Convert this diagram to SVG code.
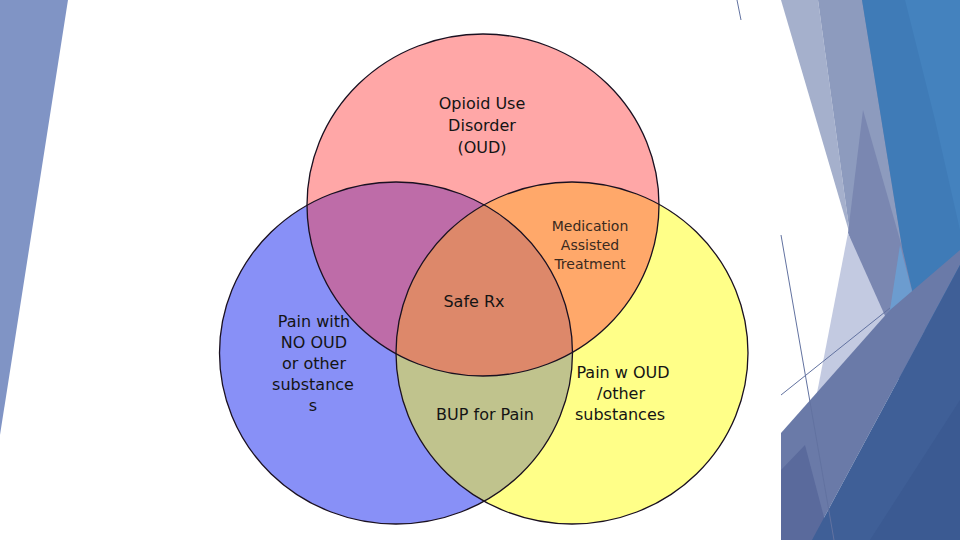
<svg xmlns="http://www.w3.org/2000/svg" width="960" height="540" viewBox="0 0 960 540">
  <style>
    .lbl { font-family: "DejaVu Sans", "Liberation Sans", sans-serif; font-size: 16px; fill: #141414; text-anchor: middle; }
    .lt { font-family: "DejaVu Sans", "Liberation Sans", sans-serif; font-size: 14px; fill: #3a2a20; text-anchor: middle; }
    .edge { fill: none; stroke: #1a1020; stroke-width: 1.3; }
    .deco-line { stroke: #6272a0; stroke-width: 1; fill: none; }
  </style>
  <defs>
    <ellipse id="eRed" cx="483" cy="205" rx="176" ry="171"/>
    <ellipse id="eBlue" cx="396" cy="353" rx="176.5" ry="171"/>
    <ellipse id="eYel" cx="572" cy="353" rx="176" ry="171"/>
    <clipPath id="cRed"><use href="#eRed"/></clipPath>
    <clipPath id="cBlue"><use href="#eBlue"/></clipPath>
    <clipPath id="cYel"><use href="#eYel"/></clipPath>
  </defs>
  <rect width="960" height="540" fill="#ffffff"/>

  <!-- background decoration -->
  <g id="decor">
    <polygon points="0,0 68,0 0,435" fill="#8094c5"/>
    <line class="deco-line" x1="737" y1="0" x2="741" y2="20"/>
    <polygon points="850,235 862,0 960,0 960,540 880,330" fill="#7a87b1"/>
    <polygon points="781,0 818,0 850,235" fill="#a5b0cc"/>
    <polygon points="818,0 862,0 902,247 890,310 880,323 850,235" fill="#8d9bbe"/>
    <polygon points="863,110 902,247 890,310 880,323 848,233" fill="#7a87b1"/>
    <polygon points="862,0 960,0 960,300 922,333 902,247" fill="#3f7bb7"/>
    <polygon points="905,0 960,0 960,230 935,120" fill="#4482be"/>
    <polygon points="848,233 886,318 817,393" fill="#c3cae1"/>
    <polygon points="900,245 923,334 873,425 877,330 890,310" fill="#6c9ccf"/>
    <polygon points="781,433 890,310 960,250 960,265 812,540 781,540" fill="#6a7aa8"/>
    <polygon points="781,470 805,445 830,540 781,540" fill="#5a6a9c"/>
    <polygon points="812,540 960,265 960,540" fill="#3f5f97"/>
    <polygon points="870,540 960,400 960,540" fill="#3b5a92"/>
    <line class="deco-line" x1="781" y1="235" x2="834" y2="540"/>
    <line class="deco-line" x1="781" y1="395" x2="890" y2="308"/>
  </g>

  <!-- region fills -->
  <g id="fills">
    <use href="#eRed" fill="#ffa7a7"/>
    <use href="#eBlue" fill="#8890f7"/>
    <use href="#eYel" fill="#ffff88"/>
    <use href="#eRed" fill="#be6ca8" clip-path="url(#cBlue)"/>
    <use href="#eRed" fill="#ffa86a" clip-path="url(#cYel)"/>
    <use href="#eBlue" fill="#c0c38d" clip-path="url(#cYel)"/>
    <g clip-path="url(#cBlue)"><use href="#eRed" fill="#dd886a" clip-path="url(#cYel)"/></g>
  </g>

  <g id="node-oud">
    <use href="#eRed" class="edge"/>
    <text class="lbl" x="482" y="109">Opioid Use</text>
    <text class="lbl" x="482" y="131">Disorder</text>
    <text class="lbl" x="482" y="153">(OUD)</text>
  </g>
  <g id="node-pain-no-oud">
    <use href="#eBlue" class="edge"/>
    <text class="lbl" x="314" y="327">Pain with</text>
    <text class="lbl" x="314" y="348">NO OUD</text>
    <text class="lbl" x="314" y="369">or other</text>
    <text class="lbl" x="313" y="390">substance</text>
    <text class="lbl" x="313" y="411">s</text>
  </g>
  <g id="node-pain-oud">
    <use href="#eYel" class="edge"/>
    <text class="lbl" x="623" y="378">Pain w OUD</text>
    <text class="lbl" x="621" y="399">/other</text>
    <text class="lbl" x="620" y="420">substances</text>
  </g>
  <g id="node-mat">
    <text class="lt" x="590" y="231">Medication</text>
    <text class="lt" x="590" y="250">Assisted</text>
    <text class="lt" x="590" y="269">Treatment</text>
  </g>
  <g id="node-safe-rx">
    <text class="lbl" x="474" y="307">Safe Rx</text>
  </g>
  <g id="node-bup">
    <text class="lbl" x="485" y="420">BUP for Pain</text>
  </g>
</svg>
